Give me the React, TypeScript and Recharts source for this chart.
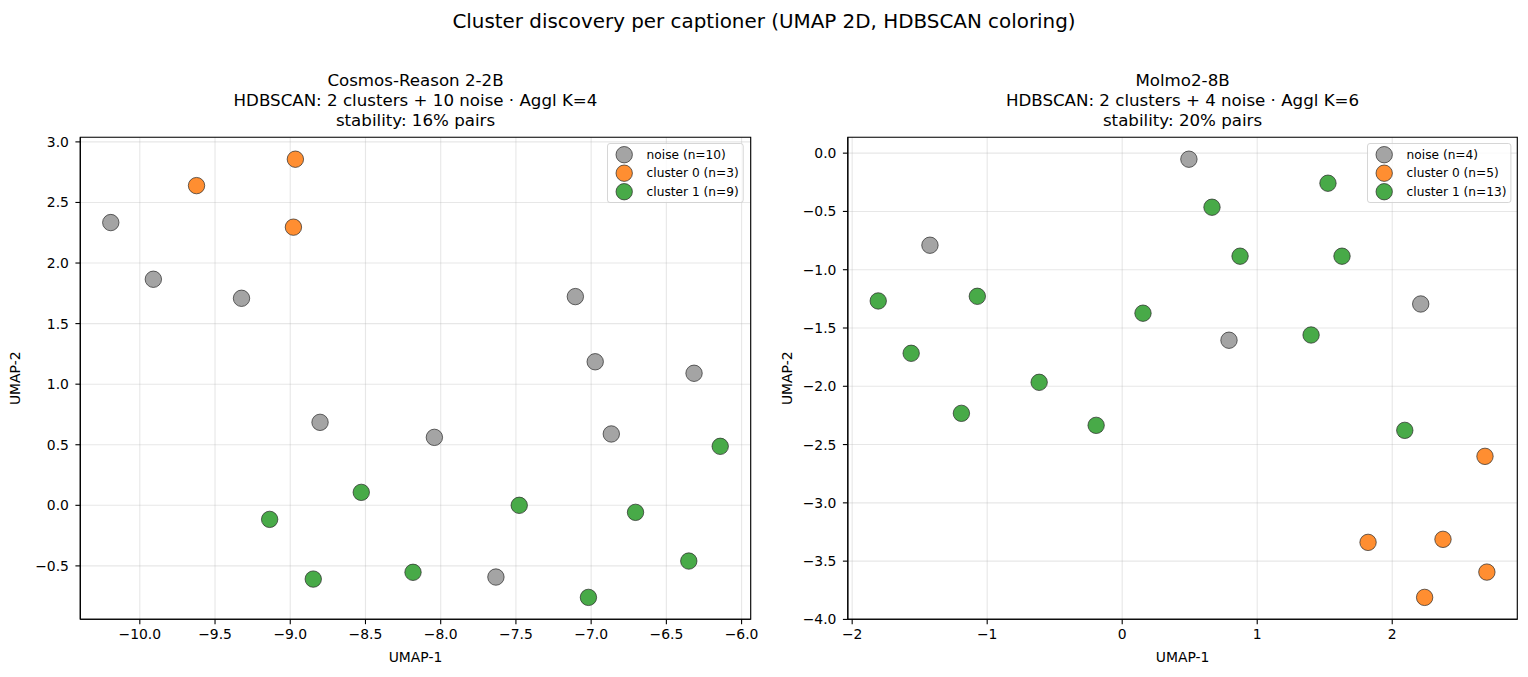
import React from "react";
import {
  ScatterChart,
  Scatter,
  XAxis,
  YAxis,
  CartesianGrid,
  ReferenceArea,
} from "recharts";

// ---------- data ----------
const leftNoise: [number, number][] = [
  [-10.193, 2.334], [-9.91, 1.866], [-9.324, 1.709], [-7.105, 1.723], [-6.973, 1.185],
  [-6.316, 1.09], [-8.802, 0.685], [-8.042, 0.561], [-6.866, 0.589], [-7.633, -0.592],
];
const leftCluster0: [number, number][] = [
  [-8.966, 2.857], [-9.623, 2.639], [-8.979, 2.296],
];
const leftCluster1: [number, number][] = [
  [-6.142, 0.487], [-8.528, 0.107], [-7.478, 0.0], [-9.137, -0.116], [-6.705, -0.058],
  [-6.351, -0.46], [-8.184, -0.553], [-8.847, -0.609], [-7.018, -0.76],
];

const rightNoise: [number, number][] = [
  [0.494, -0.052], [-1.424, -0.79], [2.211, -1.294], [0.791, -1.605],
];
const rightCluster0: [number, number][] = [
  [2.687, -2.601], [1.821, -3.339], [2.376, -3.313], [2.701, -3.594], [2.24, -3.811],
];
const rightCluster1: [number, number][] = [
  [1.524, -0.258], [0.665, -0.464], [0.873, -0.884], [1.628, -0.884], [-1.807, -1.268],
  [-1.073, -1.228], [0.154, -1.373], [1.399, -1.56], [-1.563, -1.717], [-0.615, -1.966],
  [-1.191, -2.232], [-0.193, -2.335], [2.093, -2.378],
];

const leftXTicks = [-10.0, -9.5, -9.0, -8.5, -8.0, -7.5, -7.0, -6.5, -6.0];
const leftYTicks = [-0.5, 0.0, 0.5, 1.0, 1.5, 2.0, 2.5, 3.0];
const rightXTicks = [-2, -1, 0, 1, 2];
const rightYTicks = [-4.0, -3.5, -3.0, -2.5, -2.0, -1.5, -1.0, -0.5, 0.0];

const seriesNames = ["noise", "cluster 0", "cluster 1"];
const seriesColors = ["#a4a4a4", "#ff8e31", "#48aa48"];

const suptitle = "Cluster discovery per captioner (UMAP 2D, HDBSCAN coloring)";
const leftTitle = [
  "Cosmos-Reason 2-2B",
  "HDBSCAN: 2 clusters + 10 noise · Aggl K=4",
  "stability: 16% pairs",
];
const rightTitle = [
  "Molmo2-8B",
  "HDBSCAN: 2 clusters + 4 noise · Aggl K=6",
  "stability: 20% pairs",
];
const xLabel = "UMAP-1";
const yLabel = "UMAP-2";

// ---------- helpers ----------
const FONT = "'DejaVu Sans', 'Liberation Sans', sans-serif";
const MINUS = "\u2212";

const toPts = (arr: [number, number][]) => arr.map(([x, y]) => ({ x, y }));

function padDomain(groups: [number, number][][], idx: 0 | 1): [number, number] {
  const vals = groups.flat().map((p) => p[idx]);
  const lo = Math.min(...vals);
  const hi = Math.max(...vals);
  const m = (hi - lo) * 0.05;
  return [lo - m, hi + m];
}

const fmt = (digits: number) => (v: number) => {
  const s = Math.abs(v).toFixed(digits);
  return v < -1e-9 ? MINUS + s : s;
};

const makeDot = (color: string) => (props: any) => (
  <circle cx={props.cx} cy={props.cy} r={8.2} fill={color} stroke="#262626" strokeWidth={0.7} />
);

type PanelProps = {
  offsetLeft: number;
  plotLeft: number;
  plotRight: number;
  groups: [number, number][][];
  xTicks: number[];
  yTicks: number[];
  xDigits: number;
  legendLeft: number;
  legendWidth: number;
};

const CHART_W = 764;
const CHART_H = 677;
const PLOT_TOP = 137.3;
const PLOT_BOTTOM = 619.3;

function Panel(p: PanelProps) {
  const xDom = padDomain(p.groups, 0);
  const yDom = padDomain(p.groups, 1);
  const tickStyle = { fontSize: 13.9, fill: "#000", fontFamily: FONT };
  const line = { stroke: "#000", strokeWidth: 1.1 };
  return (
    <div style={{ position: "absolute", left: p.offsetLeft, top: 0, width: CHART_W, height: CHART_H }}>
      <ScatterChart
        width={CHART_W}
        height={CHART_H}
        margin={{ top: PLOT_TOP, right: CHART_W - p.plotRight, bottom: 0, left: 0 }}
      >
        <CartesianGrid stroke="#b0b0b0" strokeOpacity={0.3} strokeWidth={1.1} />
        <XAxis
          type="number"
          dataKey="x"
          domain={xDom}
          ticks={p.xTicks}
          interval={0}
          allowDataOverflow
          height={CHART_H - PLOT_BOTTOM}
          tick={tickStyle}
          tickFormatter={fmt(p.xDigits)}
          tickSize={4.9}
          tickMargin={5}
          axisLine={line}
          tickLine={line}
        />
        <YAxis
          type="number"
          dataKey="y"
          domain={yDom}
          ticks={p.yTicks}
          interval={0}
          allowDataOverflow
          width={p.plotLeft}
          tick={tickStyle}
          tickFormatter={fmt(1)}
          tickSize={4.9}
          tickMargin={6.5}
          axisLine={line}
          tickLine={line}
        />
        {p.groups.map((g, i) => (
          <Scatter
            key={seriesNames[i]}
            name={seriesNames[i]}
            data={toPts(g)}
            fill={seriesColors[i]}
            shape={makeDot(seriesColors[i])}
            isAnimationActive={false}
          />
        ))}
        <ReferenceArea
          x1={xDom[0]}
          x2={xDom[1]}
          y1={yDom[0]}
          y2={yDom[1]}
          fill="none"
          fillOpacity={0}
          stroke="#000"
          strokeWidth={1.1}
          strokeOpacity={1}
          ifOverflow="visible"
        />
      </ScatterChart>
      <svg
        width={p.legendWidth}
        height={60}
        style={{ position: "absolute", left: p.legendLeft - p.offsetLeft, top: 143.3 }}
      >
        <rect
          x={0.5}
          y={0.5}
          width={p.legendWidth - 1}
          height={59}
          rx={2.5}
          fill="#fff"
          fillOpacity={0.8}
          stroke="#cccccc"
          strokeOpacity={0.8}
          strokeWidth={1}
        />
        {seriesNames.map((n, i) => {
          const cy = 11.7 + i * 18.5;
          return (
            <g key={n}>
              <circle cx={17.2} cy={cy} r={8.2} fill={seriesColors[i]} stroke="#262626" strokeWidth={0.7} />
              <text
                x={39.6}
                y={cy}
                dominantBaseline="central"
                fontSize={12.2}
                fontFamily={FONT}
                fill="#000"
              >
                {`${n} (n=${p.groups[i].length})`}
              </text>
            </g>
          );
        })}
      </svg>
    </div>
  );
}

export default function App() {
  const leftCenter = (80.3 + 750.7) / 2;
  const rightCenter = (847.8 + 1517.3) / 2;
  const titleBase = [86, 106, 126];
  return (
    <div
      style={{
        position: "absolute",
        left: 0,
        top: 0,
        width: 1528,
        height: 677,
        background: "#fff",
        fontFamily: FONT,
        overflow: "hidden",
      }}
    >
      <Panel
        offsetLeft={0}
        plotLeft={80.3}
        plotRight={750.7}
        groups={[leftNoise, leftCluster0, leftCluster1]}
        xTicks={leftXTicks}
        yTicks={leftYTicks}
        xDigits={1}
        legendLeft={607.3}
        legendWidth={136.7}
      />
      <Panel
        offsetLeft={764}
        plotLeft={847.8 - 764}
        plotRight={1517.3 - 764}
        groups={[rightNoise, rightCluster0, rightCluster1]}
        xTicks={rightXTicks}
        yTicks={rightYTicks}
        xDigits={0}
        legendLeft={1367.3}
        legendWidth={144.4}
      />
      <svg
        width={1528}
        height={677}
        style={{ position: "absolute", left: 0, top: 0, pointerEvents: "none" }}
      >
        <text x={764} y={28.3} textAnchor="middle" fontSize={19.9} fontFamily={FONT} fill="#000">
          {suptitle}
        </text>
        {leftTitle.map((t, i) => (
          <text key={"l" + i} x={leftCenter} y={titleBase[i]} textAnchor="middle" fontSize={16.67} fontFamily={FONT} fill="#000">
            {t}
          </text>
        ))}
        {rightTitle.map((t, i) => (
          <text key={"r" + i} x={rightCenter} y={titleBase[i]} textAnchor="middle" fontSize={16.67} fontFamily={FONT} fill="#000">
            {t}
          </text>
        ))}
        <text x={leftCenter} y={662} textAnchor="middle" fontSize={13.9} fontFamily={FONT} fill="#000">
          {xLabel}
        </text>
        <text x={rightCenter} y={662} textAnchor="middle" fontSize={13.9} fontFamily={FONT} fill="#000">
          {xLabel}
        </text>
        <text
          x={0}
          y={0}
          transform={`translate(20.4, ${(PLOT_TOP + PLOT_BOTTOM) / 2}) rotate(-90)`}
          textAnchor="middle"
          fontSize={13.9}
          fontFamily={FONT}
          fill="#000"
        >
          {yLabel}
        </text>
        <text
          x={0}
          y={0}
          transform={`translate(792, ${(PLOT_TOP + PLOT_BOTTOM) / 2}) rotate(-90)`}
          textAnchor="middle"
          fontSize={13.9}
          fontFamily={FONT}
          fill="#000"
        >
          {yLabel}
        </text>
      </svg>
    </div>
  );
}
